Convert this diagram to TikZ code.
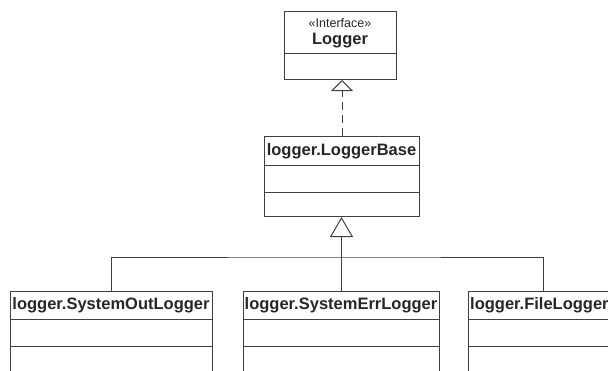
\documentclass[tikz,border=0pt]{standalone}
\usepackage{fontspec}
\setmainfont{Liberation Sans}
\usetikzlibrary{arrows.meta}
\definecolor{linec}{gray}{0.25}

\begin{document}
\begin{tikzpicture}[x=1pt,y=-1pt,
    cls/.style={draw=linec,line width=1pt,inner sep=0pt,anchor=north west},
    ttl/.style={font=\bfseries\fontsize{16.5}{16.5}\selectfont,inner sep=0pt,text=black!85},
    gen/.style={draw=linec,line width=1pt,-{Triangle[open,length=20pt,width=23pt]}},
    real/.style={draw=linec,line width=1pt,dash pattern=on 8pt off 5pt,-{Triangle[open,length=11pt,width=22pt]}}]
    \clip(0,0)rectangle(608,370);

    % interface
    \node[cls,minimum width=112pt,minimum height=68pt](logger)at(284,11){};
    \draw[linec,line width=1pt](logger.north west)++(0,42)--++(112,0);
    \node[inner sep=0pt,font=\fontsize{12.5}{12.5}\selectfont,text=black!85](stereo)at(340,23){«Interface»};
    \node[ttl](loggername)at(340,41){Logger};

    % base class
    \node[cls,minimum width=155pt,minimum height=80pt](base)at(264,136){};
    \draw[linec,line width=1pt](base.north west)++(0,29)--++(155,0);
    \draw[linec,line width=1pt](base.north west)++(0,56)--++(155,0);
    \node[ttl](basename)at(341.5,151){logger.LoggerBase};

    % subclasses
    \node[cls,minimum width=202pt,minimum height=120pt](out)at(10,291){};
    \node[cls,minimum width=196pt,minimum height=120pt](err)at(243,291){};
    \node[cls,minimum width=150pt,minimum height=120pt](file)at(468,291){};
    \foreach \c/\w in {out/202,err/196,file/150}{
        \draw[linec,line width=1pt](\c.north west)++(0,28)--++(\w,0);
        \draw[linec,line width=1pt](\c.north west)++(0,55)--++(\w,0);
    }
    \node[ttl](outname)at(111,305){logger.SystemOutLogger};
    \node[ttl](errname)at(341,305){logger.SystemErrLogger};
    \node[ttl,anchor=west](filename)at(470,305){logger.FileLogger};

    % connectors
    \draw[real](base.north)--(base.north|-logger.south);
    \draw[gen](err.north)--(err.north|-base.south);
    \coordinate(fork)at(341,257);
    \draw[linec,line width=1pt](out.north)|-(fork)-|(file.north);
\end{tikzpicture}
\end{document}
